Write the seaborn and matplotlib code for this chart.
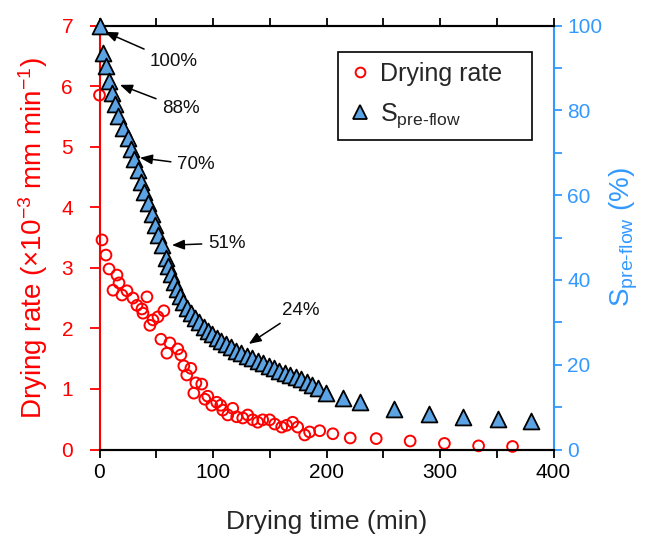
import matplotlib
matplotlib.use('Agg')
import matplotlib.pyplot as plt
import seaborn as sns
import pandas as pd
from matplotlib.lines import Line2D
from matplotlib.ticker import FuncFormatter

# ---------------- data ----------------
rate_time = [0, 2.2, 5.7, 8.4, 15.4, 17.2, 11.9, 19.8, 24.2, 29.5, 33.0, 37.4, 38.3,
             41.8, 44.4, 47.1, 51.5, 56.7, 54.1, 59.4, 62.0, 69.0, 71.7, 74.3, 76.9,
             80.5, 84.9, 90.1, 83.1, 92.8, 95.4, 98.9, 103.3, 106.8, 108.6, 113.0,
             117.4, 120.9, 126.2, 130.6, 135.0, 139.4, 143.8, 149.9, 154.4, 160.5,
             164.9, 170.2, 174.6, 180.8, 185.1, 194.0, 205.6, 220.9, 243.8, 273.7,
             303.9, 334.0, 363.9]
rate_value = [5.85, 3.46, 3.21, 2.98, 2.88, 2.75, 2.63, 2.55, 2.62, 2.50, 2.38, 2.32, 2.25,
              2.52, 2.05, 2.14, 2.19, 2.29, 1.82, 1.59, 1.76, 1.66, 1.56, 1.38, 1.23,
              1.34, 1.10, 1.08, 0.93, 0.83, 0.88, 0.73, 0.78, 0.73, 0.65, 0.57,
              0.68, 0.54, 0.52, 0.57, 0.49, 0.45, 0.49, 0.49, 0.42, 0.37,
              0.40, 0.45, 0.37, 0.24, 0.29, 0.31, 0.26, 0.19, 0.18, 0.14,
              0.10, 0.06, 0.05]

s_time = [0, 3.4, 5.5, 8.4, 10.7, 13.6, 16.5, 20.5, 24.8, 27.7, 30.6, 33.6, 36.5, 39.4,
          42.4, 45.9, 48.8, 51.7, 54.7, 58.5, 60.5, 62.6, 65.5, 67.9, 70.8, 73.7, 76.7,
          80.2, 84.0, 87.8, 91.9, 95.7, 99.5, 103.6, 107.4, 111.8, 116.2, 120.6, 125.0,
          130.0, 134.7, 139.6, 144.0, 149.0, 153.4, 158.1, 163.1, 168.1, 173.4, 177.8,
          182.7, 187.5, 192.4, 199.8, 214.4, 229.7, 259.9, 290.1, 320.0, 350.7, 380.1]
s_value = [100, 93.5, 90.4, 87.0, 84.1, 81.4, 78.6, 75.8, 73.5, 70.8, 68.5, 65.9, 63.1,
           60.8, 58.2, 55.6, 52.9, 50.6, 48.2, 45.2, 43.3, 41.4, 39.4, 37.8, 36.2, 34.7,
           33.3, 32.1, 31.0, 30.0, 28.9, 28.0, 27.2, 26.4, 25.6, 24.9, 24.1, 23.3, 22.7,
           22.1, 21.5, 20.9, 20.3, 19.8, 19.2, 18.6, 18.1, 17.6, 17.2, 16.6, 15.9, 15.2,
           14.4, 13.3, 12.1, 11.1, 9.5, 8.4, 7.6, 7.1, 6.8]

ann_labels = ['100%', '88%', '70%', '51%', '24%']
ann_tip_t = [4.8, 18.0, 35.6, 63.8, 131.5]
ann_tip_s = [98.5, 86.0, 68.8, 48.2, 24.9]
ann_text_t = [44.0, 55.0, 68.2, 95.4, 160.5]
ann_text_s = [91.4, 80.5, 67.1, 48.7, 32.9]

x_ticks = [0, 50, 100, 150, 200, 250, 300, 350, 400]
left_ticks = [0, 1, 2, 3, 4, 5, 6, 7]
right_ticks = [0, 10, 20, 30, 40, 50, 60, 70, 80, 90, 100]

# ---------------- style ----------------
sns.set_style('ticks')
plt.rcParams['font.family'] = ['Liberation Sans', 'DejaVu Sans']
plt.rcParams['mathtext.fontset'] = 'custom'
plt.rcParams['mathtext.rm'] = 'Liberation Sans'
plt.rcParams['mathtext.it'] = 'Liberation Sans:italic'
plt.rcParams['mathtext.bf'] = 'Liberation Sans:bold'

RED = '#FF0000'
BLUE = '#3399FF'
TRI_FILL = '#5BA3E3'
TICK_FS = 15
ANN_FS = 13.5
LABEL_FS = 19

df_rate = pd.DataFrame({'time': rate_time, 'rate': rate_value})
df_s = pd.DataFrame({'time': s_time, 'S': s_value})

fig = plt.figure(figsize=(6.52, 5.45), dpi=100)
L, R, T, B = 99.5 / 652, 553.5 / 652, 25.5 / 545, 449.5 / 545
ax = fig.add_axes([L, 1 - B, R - L, B - T])
ax2 = ax.twinx()

sns.scatterplot(data=df_rate, x='time', y='rate', ax=ax, marker='o', s=60,
                facecolor='none', edgecolor=RED, linewidth=1.4, legend=False,
                clip_on=False, zorder=3)
sns.scatterplot(data=df_s, x='time', y='S', ax=ax2, marker='^', s=130,
                facecolor=TRI_FILL, edgecolor='black', linewidth=1.3, legend=False,
                clip_on=False, zorder=3)

ax.set_xlim(0, 400)
ax.set_ylim(0, 7)
ax2.set_ylim(0, 100)

ax.set_xticks(x_ticks)
ax.xaxis.set_major_formatter(FuncFormatter(lambda v, p: f'{int(v)}' if int(v) % 100 == 0 else ''))
ax.set_yticks(left_ticks)
ax2.set_yticks(right_ticks)
ax2.yaxis.set_major_formatter(FuncFormatter(lambda v, p: f'{int(v)}' if int(v) % 20 == 0 else ''))

ax.tick_params(axis='x', which='both', direction='out', length=6, width=1.3,
               labelsize=TICK_FS, top=True, colors='black', pad=4)
ax.tick_params(axis='y', which='both', direction='out', length=7, width=1.3,
               labelsize=TICK_FS, colors=RED, labelcolor=RED, pad=12)
ax2.tick_params(axis='y', which='both', direction='out', length=6, width=1.3,
                labelsize=TICK_FS, colors=BLUE, labelcolor=BLUE, pad=4)

for a in (ax, ax2):
    for sp in a.spines.values():
        sp.set_linewidth(1.5)
    a.spines['top'].set_color('black')
    a.spines['bottom'].set_color('black')
    a.spines['left'].set_color(RED)
    a.spines['right'].set_color(BLUE)
ax.spines['right'].set_visible(False)
ax2.spines['left'].set_visible(False)

ax.set_xlabel('Drying time (min)', fontsize=LABEL_FS, labelpad=20)
ax.set_ylabel('Drying rate (\u00d710$^{-3}$ mm min$^{-1}$)', fontsize=20,
              color=RED, labelpad=8)
ax2.set_ylabel('S$_{\\mathregular{pre\u2010flow}}$ (%)', fontsize=20,
               color=BLUE, labelpad=4)

for lab, tt, ts, xt, xs in zip(ann_labels, ann_tip_t, ann_tip_s, ann_text_t, ann_text_s):
    ax2.annotate(lab, xy=(tt, ts), xytext=(xt, xs), textcoords='data',
                 fontsize=ANN_FS, ha='left', va='center', color='#111111',
                 arrowprops=dict(arrowstyle='-|>,head_length=0.55,head_width=0.22',
                                 color='black', lw=1.1, shrinkA=2, shrinkB=0))

handles = [
    Line2D([], [], marker='o', linestyle='none', markersize=7, markerfacecolor='none',
           markeredgecolor=RED, markeredgewidth=1.4),
    Line2D([], [], marker='^', linestyle='none', markersize=10, markerfacecolor=TRI_FILL,
           markeredgecolor='black', markeredgewidth=1.3),
]
leg = ax2.legend(handles, ['Drying rate', 'S$_{\\mathregular{pre\u2010flow}}$'],
                 loc='upper left', bbox_to_anchor=(0.525, 0.5, 0.427, 0.4375),
                 mode='expand', fontsize=18,
                 frameon=True, fancybox=False, edgecolor='black', framealpha=1,
                 handletextpad=0.3, borderpad=0.4, labelspacing=0.6,
                 handlelength=1.0, borderaxespad=0)
leg.get_frame().set_linewidth(1.2)

fig.savefig('out.png', dpi=100)
